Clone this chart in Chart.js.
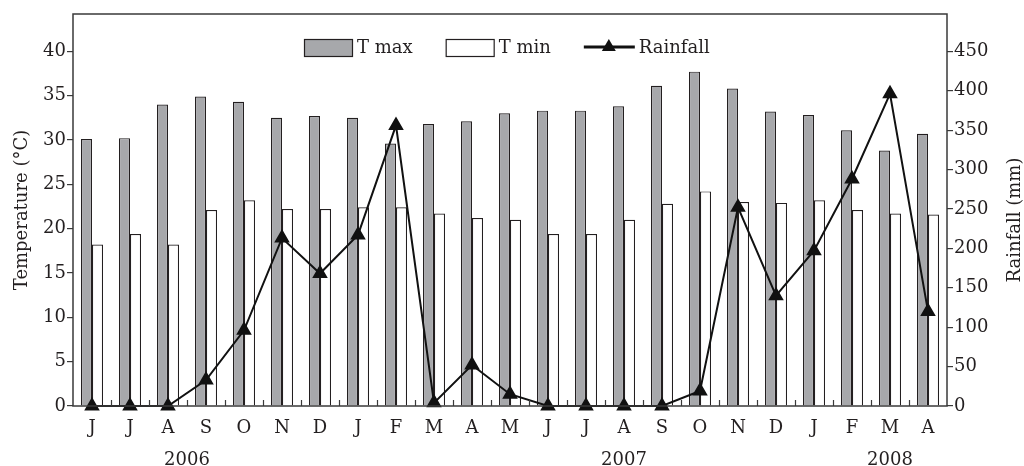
<!DOCTYPE html>
<html>
<head>
<meta charset="utf-8">
<script src="https://cdn.jsdelivr.net/npm/chart.js@4.4.1/dist/chart.umd.min.js"></script>
<style>
  html, body { margin: 0; padding: 0; background: #fff; }
  #chart { display: block; }
</style>
</head>
<body>
<canvas id="chart" width="1024" height="466"></canvas>
<script>
const months = ["J", "J", "A", "S", "O", "N", "D", "J", "F", "M", "A", "M",
                "J", "J", "A", "S", "O", "N", "D", "J", "F", "M", "A"];
const tMax = [30.1, 30.2, 34.0, 34.9, 34.3, 32.5, 32.7, 32.5, 29.6, 31.8, 32.1, 33.0,
              33.3, 33.3, 33.8, 36.1, 37.7, 35.8, 33.2, 32.8, 31.1, 28.8, 30.7];
const tMin = [18.2, 19.4, 18.2, 22.1, 23.2, 22.2, 22.2, 22.4, 22.4, 21.7, 21.2, 21.0,
              19.4, 19.4, 21.0, 22.8, 24.2, 23.0, 22.9, 23.2, 22.1, 21.7, 21.6];
const rainfall = [0, 0, 0, 33, 96, 213, 168, 217, 356, 4, 52, 15,
                  0, 0, 0, 0, 19, 252, 140, 197, 288, 396, 120];
const years = ["2006", "2007", "2008"];
const yearAt = [2.5, 14, 21];   // category index under which each year sits

const FONT = "'DejaVu Serif', 'Liberation Serif', serif";
const INK = "#231f20";
Chart.defaults.font.family = FONT;
Chart.defaults.font.size = 18;
Chart.defaults.color = INK;

// box round the plot, inward month ticks, year row, right title, legend
const decor = {
  id: "decor",
  afterDatasetsDraw(chart) {
    const ctx = chart.ctx;
    const a = chart.chartArea;
    const x = chart.scales.x;
    ctx.save();
    ctx.strokeStyle = "#3a3a3a";
    ctx.lineWidth = 1.5;
    ctx.strokeRect(a.left, a.top, a.right - a.left, a.bottom - a.top);

    const step = (a.right - a.left) / months.length;
    ctx.lineWidth = 1.2;
    ctx.beginPath();
    for (let k = 1; k < months.length; k++) {
      const px = Math.round(a.left + k * step) + 0.5;
      ctx.moveTo(px, a.bottom);
      ctx.lineTo(px, a.bottom - 6);
    }
    ctx.stroke();

    ctx.fillStyle = INK;
    ctx.font = "18px " + FONT;
    ctx.textAlign = "center";
    ctx.textBaseline = "alphabetic";
    years.forEach((y, i) => ctx.fillText(y, x.getPixelForValue(yearAt[i]), 465));

    ctx.save();
    ctx.translate(1015, (a.top + a.bottom) / 2 + 10);
    ctx.rotate(-Math.PI / 2);
    ctx.textBaseline = "middle";
    ctx.fillText("Rainfall (mm)", 0, 0);
    ctx.restore();

    // legend
    let lx = a.left + 231;
    const ly = 47;
    ctx.textAlign = "left";
    ctx.textBaseline = "middle";
    chart.data.datasets.forEach(ds => {
      if (ds.type === "line") {
        ctx.strokeStyle = ds.borderColor;
        ctx.lineWidth = 3;
        ctx.beginPath();
        ctx.moveTo(lx, ly);
        ctx.lineTo(lx + 51, ly);
        ctx.stroke();
        ctx.fillStyle = ds.pointBackgroundColor;
        ctx.beginPath();
        ctx.moveTo(lx + 25, ly - 8);
        ctx.lineTo(lx + 32, ly + 4);
        ctx.lineTo(lx + 18, ly + 4);
        ctx.closePath();
        ctx.fill();
        lx += 55;
      } else {
        ctx.fillStyle = ds.backgroundColor;
        ctx.fillRect(lx, ly - 8, 48, 17);
        ctx.strokeStyle = ds.borderColor;
        ctx.lineWidth = 1.2;
        ctx.strokeRect(lx + 0.5, ly - 8 + 0.5, 48, 17);
        lx += 53;
      }
      ctx.fillStyle = INK;
      ctx.fillText(ds.label, lx, ly + 1);
      lx += ctx.measureText(ds.label).width + 33;
    });
    ctx.restore();
  }
};

new Chart(document.getElementById("chart"), {
  type: "bar",
  data: {
    labels: months,
    datasets: [
      {
        label: "T max",
        data: tMax,
        yAxisID: "y",
        backgroundColor: "#a7a8ab",
        borderColor: INK,
        borderWidth: 1.2,
        categoryPercentage: 0.58,
        barPercentage: 1,
        order: 1
      },
      {
        label: "T min",
        data: tMin,
        yAxisID: "y",
        backgroundColor: "#ffffff",
        borderColor: INK,
        borderWidth: 1.2,
        categoryPercentage: 0.58,
        barPercentage: 1,
        order: 1
      },
      {
        type: "line",
        label: "Rainfall",
        data: rainfall,
        yAxisID: "y2",
        borderColor: "#111",
        borderWidth: 2,
        pointStyle: "triangle",
        pointRadius: 7,
        pointBackgroundColor: "#111",
        pointBorderColor: "#111",
        tension: 0,
        clip: false,
        order: 0
      }
    ]
  },
  options: {
    responsive: false,
    animation: false,
    devicePixelRatio: 1,
    layout: { padding: { top: 14, left: 0, right: 0, bottom: 0 } },
    plugins: { legend: { display: false }, tooltip: { enabled: false } },
    scales: {
      x: {
        offset: true,
        grid: { display: false, drawTicks: false },
        border: { display: false },
        ticks: { padding: 12, maxRotation: 0, autoSkip: false },
        afterFit: s => { s.height = 60; }
      },
      y: {
        position: "left",
        min: 0,
        max: 44.2,
        ticks: { stepSize: 5, includeBounds: false, padding: 1 },
        grid: { drawOnChartArea: false, tickLength: 6, color: "#3a3a3a", lineWidth: 1.2 },
        border: { display: false },
        title: {
          display: true,
          text: "Temperature (°C)",
          font: { size: 18, lineHeight: 1 },
          padding: { top: 13, bottom: 0 }
        },
        afterFit: s => { s.width = 73; }
      },
      y2: {
        position: "right",
        min: 0,
        max: 497.3,
        ticks: { stepSize: 50, includeBounds: false, padding: 1 },
        grid: { drawOnChartArea: false, tickLength: 6, color: "#3a3a3a", lineWidth: 1.2 },
        border: { display: false },
        afterFit: s => { s.width = 77; }
      }
    }
  },
  plugins: [decor]
});
</script>
</body>
</html>
